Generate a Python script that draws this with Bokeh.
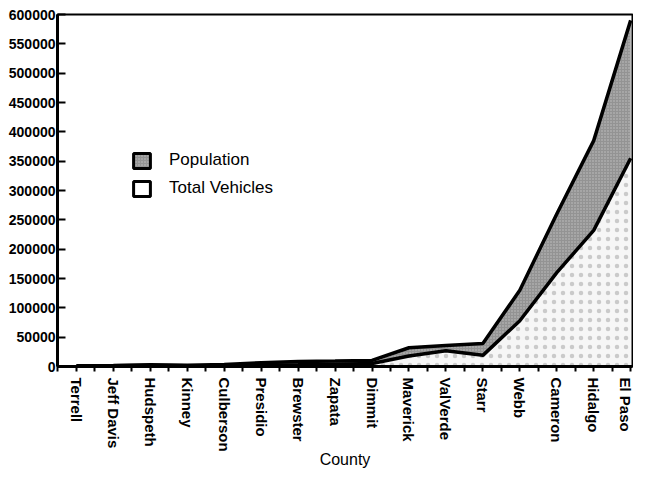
from bokeh.plotting import figure
from bokeh.models import FixedTicker, Legend, LegendItem, ColumnDataSource
from bokeh.embed import file_html
from bokeh.resources import INLINE

counties = ["Terrell", "Jeff Davis", "Hudspeth", "Kinney", "Culberson", "Presidio",
            "Brewster", "Zapata", "Dimmit", "Maverick", "ValVerde", "Starr",
            "Webb", "Cameron", "Hidalgo", "El Paso"]
population = [1400, 1900, 2900, 2300, 3400, 6600, 8700, 9300, 10400, 32000,
              36000, 39000, 130000, 260000, 385000, 590000]
vehicles = [900, 1200, 1500, 1200, 1800, 2500, 3000, 4000, 5000, 18000,
            27000, 19000, 78000, 160000, 232000, 355000]
y_ticks = list(range(0, 600001, 50000))
x_title = "County"

xs = list(range(len(counties)))
src = ColumnDataSource(dict(x=xs, pop=population, veh=vehicles))

FONT = "Liberation Sans"
NAN = float("nan")

p = figure(width=633, height=471, x_range=(-0.513, 15.05), y_range=(0, 600000),
           output_backend="svg", toolbar_location=None,
           min_border_left=57, min_border_right=1, min_border_top=14, min_border_bottom=105)
p.background_fill_color = "white"
p.border_fill_color = "white"
p.grid.visible = False
p.outline_line_color = "black"
p.outline_line_width = 2

POP_STYLE = dict(fill_color="#939393", hatch_pattern=".", hatch_color="#ffffff",
                 hatch_scale=3, hatch_alpha=0.45)
VEH_STYLE = dict(fill_color="#f6f6f6", hatch_pattern=".", hatch_color="#777777",
                 hatch_scale=9, hatch_weight=0.5, hatch_alpha=0.35)

# vehicles area (light stipple)
p.varea(x="x", y1=0, y2="veh", source=src, **VEH_STYLE)
# population band (dark stipple)
p.varea(x="x", y1="veh", y2="pop", source=src, **POP_STYLE)
p.line(x="x", y="veh", source=src, line_color="black", line_width=3.5)
p.line(x="x", y="pop", source=src, line_color="black", line_width=3.5)

# legend swatches (not drawn in the plot: NaN extents)
r_pop = p.quad(left=[NAN], right=[NAN], top=[NAN], bottom=[NAN],
               line_color="black", line_width=3, **POP_STYLE)
r_veh = p.quad(left=[NAN], right=[NAN], top=[NAN], bottom=[NAN],
               line_color="black", line_width=3, fill_color="#ffffff")
legend = Legend(items=[LegendItem(label="Population", renderers=[r_pop]),
                       LegendItem(label="Total Vehicles", renderers=[r_veh])],
                location=(74, 168), orientation="vertical")
legend.glyph_width = 21
legend.glyph_height = 19
legend.label_standoff = 17
legend.spacing = 8
legend.padding = 0
legend.margin = 0
legend.border_line_alpha = 0
legend.background_fill_alpha = 0
legend.label_text_font = FONT
legend.label_text_font_size = "17px"
legend.label_text_color = "black"
p.add_layout(legend, "center")

# x axis
xa = p.xaxis[0]
xa.ticker = FixedTicker(ticks=xs, minor_ticks=[i - 0.5 for i in xs])
xa.major_label_overrides = {i: c for i, c in zip(xs, counties)}
xa.major_label_orientation = "vertical"
xa.major_label_text_font = FONT
xa.major_label_text_font_style = "bold"
xa.major_label_text_font_size = "15px"
xa.major_label_text_color = "black"
xa.major_label_standoff = 6
xa.axis_line_width = 3
xa.axis_line_color = "black"
xa.major_tick_out = 5
xa.major_tick_in = 0
xa.minor_tick_out = 5
xa.minor_tick_in = 0
xa.major_tick_line_width = 2
xa.minor_tick_line_width = 2
xa.axis_label = x_title
xa.axis_label_text_font = FONT
xa.axis_label_text_font_style = "normal"
xa.axis_label_text_font_size = "16px"
xa.axis_label_text_color = "black"
xa.axis_label_standoff = -4

# y axis
ya = p.yaxis[0]
ya.ticker = FixedTicker(ticks=y_ticks)
ya.major_label_overrides = {v: str(v) for v in y_ticks}
ya.major_label_text_font = FONT
ya.major_label_text_font_style = "bold"
ya.major_label_text_font_size = "14px"
ya.major_label_text_color = "black"
ya.major_label_standoff = 2
ya.axis_line_width = 3
ya.axis_line_color = "black"
ya.major_tick_in = 8
ya.major_tick_out = 0
ya.major_tick_line_width = 2
ya.minor_tick_line_color = None

open("out.html", "w").write(file_html(p, INLINE))
